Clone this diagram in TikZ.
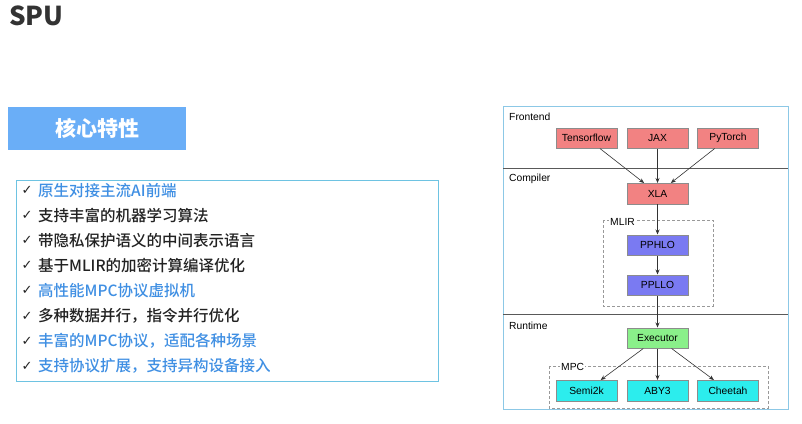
\documentclass[tikz,border=0pt]{standalone}
\usepackage{fontspec}
\setmainfont{Liberation Sans}
\newfontfamily\cjk{Noto Sans CJK SC}
\newfontfamily\cjkm{Noto Sans CJK SC Medium}
\newfontfamily\dejavu{DejaVu Sans}
\usetikzlibrary{arrows.meta}
\definecolor{hdrblue}{HTML}{6AAEF7}
\definecolor{listborder}{HTML}{6EC3E2}
\definecolor{itemblue}{HTML}{3F8FE3}
\definecolor{itemblack}{HTML}{222222}
\definecolor{redbox}{HTML}{F28282}
\definecolor{bluebox}{HTML}{7A7AF2}
\definecolor{greenbox}{HTML}{8AF08A}
\definecolor{cyanbox}{HTML}{2CEDED}
\definecolor{framecol}{HTML}{8CC8E6}
\tikzset{
  blk/.style={draw=black!45, line width=0.5pt, minimum width=61pt, minimum height=20.5pt, inner sep=0pt, font=\fontsize{10.3}{12}\selectfont},
  redb/.style={blk, fill=redbox},
  blueb/.style={blk, fill=bluebox},
  greenb/.style={blk, fill=greenbox},
  cyanb/.style={blk, fill=cyanbox},
  arr/.style={draw=black!80, line width=0.6pt, -{Stealth[length=5pt,width=4pt]}},
  seclabel/.style={anchor=west, inner sep=0pt, font=\fontsize{10.3}{12}\selectfont},
  dashbox/.style={draw=black!40, dashed, line width=0.8pt, dash pattern=on 3pt off 2pt},
  boxlabel/.style={anchor=west, inner sep=1pt, fill=white, font=\fontsize{10.3}{12}\selectfont},
  itemtext/.style={anchor=west, inner sep=0pt, font=\cjkm\fontsize{15.5}{18}\selectfont},
  chk/.style={anchor=center, inner sep=0pt, text=itemblack, font=\dejavu\fontsize{13}{15}\selectfont},
}
\begin{document}
\begin{tikzpicture}[x=1pt,y=-1pt]
\useasboundingbox (0,0) rectangle (802,423);
\fill[white] (0,0) rectangle (802,423);
% title
\node[anchor=west, inner sep=0pt, text=black!80, font=\cjk\bfseries\fontsize{26}{30}\selectfont] (title) at (9,16) {SPU};
% header
\node[fill=hdrblue, minimum width=178pt, minimum height=43pt, inner sep=0pt, text=white, font=\cjk\bfseries\fontsize{21}{24}\selectfont] (hdr) at (97,128.5) {核心特性};
% list box
\node[draw=listborder, line width=1pt, minimum width=422pt, minimum height=201pt, inner sep=0pt] (listbox) at (227,280.5) {};
\foreach \i/\t/\c in {0/原生对接主流AI前端/itemblue, 1/支持丰富的机器学习算法/itemblack, 2/带隐私保护语义的中间表示语言/itemblack, 3/基于MLIR的加密计算编译优化/itemblack, 4/高性能MPC协议虚拟机/itemblue, 5/多种数据并行，指令并行优化/itemblack, 6/丰富的MPC协议，适配各种场景/itemblue, 7/支持协议扩展，支持异构设备接入/itemblue}{
  \node[chk] (c\i) at (27,190.5+25.1*\i) {✓};
  \node[itemtext, text=\c] (t\i) at (38,190.5+25.1*\i) {\t};
}
% diagram frame
\node[draw=framecol, line width=1pt, minimum width=285pt, minimum height=303pt, inner sep=0pt] (frame) at (645.5,257.5) {};
\coordinate (s1l) at (503,168);
\coordinate (s1r) at (788,168);
\coordinate (s2l) at (503,314);
\coordinate (s2r) at (788,314);
\draw[black!65, line width=0.7pt] (s1l) -- (s1r);
\draw[black!65, line width=0.7pt] (s2l) -- (s2r);
\node[seclabel] (lf) at (509,117) {Frontend};
\node[seclabel] (lc) at (509,179) {Compiler};
\node[seclabel] (lr) at (509,326) {Runtime};
% dashed boxes
\draw[dashbox] (603,220) rectangle (713,306);
\node[boxlabel] (mlir) at (609,222) {MLIR};
\draw[dashbox] (549,366) rectangle (768,408);
\node[boxlabel] (mpc) at (560,367) {MPC};
% nodes
\node[redb] (tf) at (586.5,138) {Tensorflow};
\node[redb] (jax) at (657.5,138) {JAX};
\node[redb] (pt) at (728,138) {PyTorch};
\node[redb] (xla) at (657.5,193.5) {XLA};
\node[blueb] (pphlo) at (657.5,245) {PPHLO};
\node[blueb] (pphllo) at (657.5,285) {PPLLO};
\node[greenb] (exec) at (657.5,338) {Executor};
\node[cyanb] (semi) at (586.5,390.5) {Semi2k};
\node[cyanb] (aby) at (657.5,390.5) {ABY3};
\node[cyanb] (chee) at (728,390.5) {Cheetah};
% arrows
\draw[arr] (tf) -- (xla);
\draw[arr] (jax) -- (xla);
\draw[arr] (pt) -- (xla);
\draw[arr] (xla) -- (pphlo);
\draw[arr] (pphlo) -- (pphllo);
\draw[arr] (pphllo) -- (exec);
\draw[arr] (exec) -- (semi);
\draw[arr] (exec) -- (aby);
\draw[arr] (exec) -- (chee);
\end{tikzpicture}
\end{document}
